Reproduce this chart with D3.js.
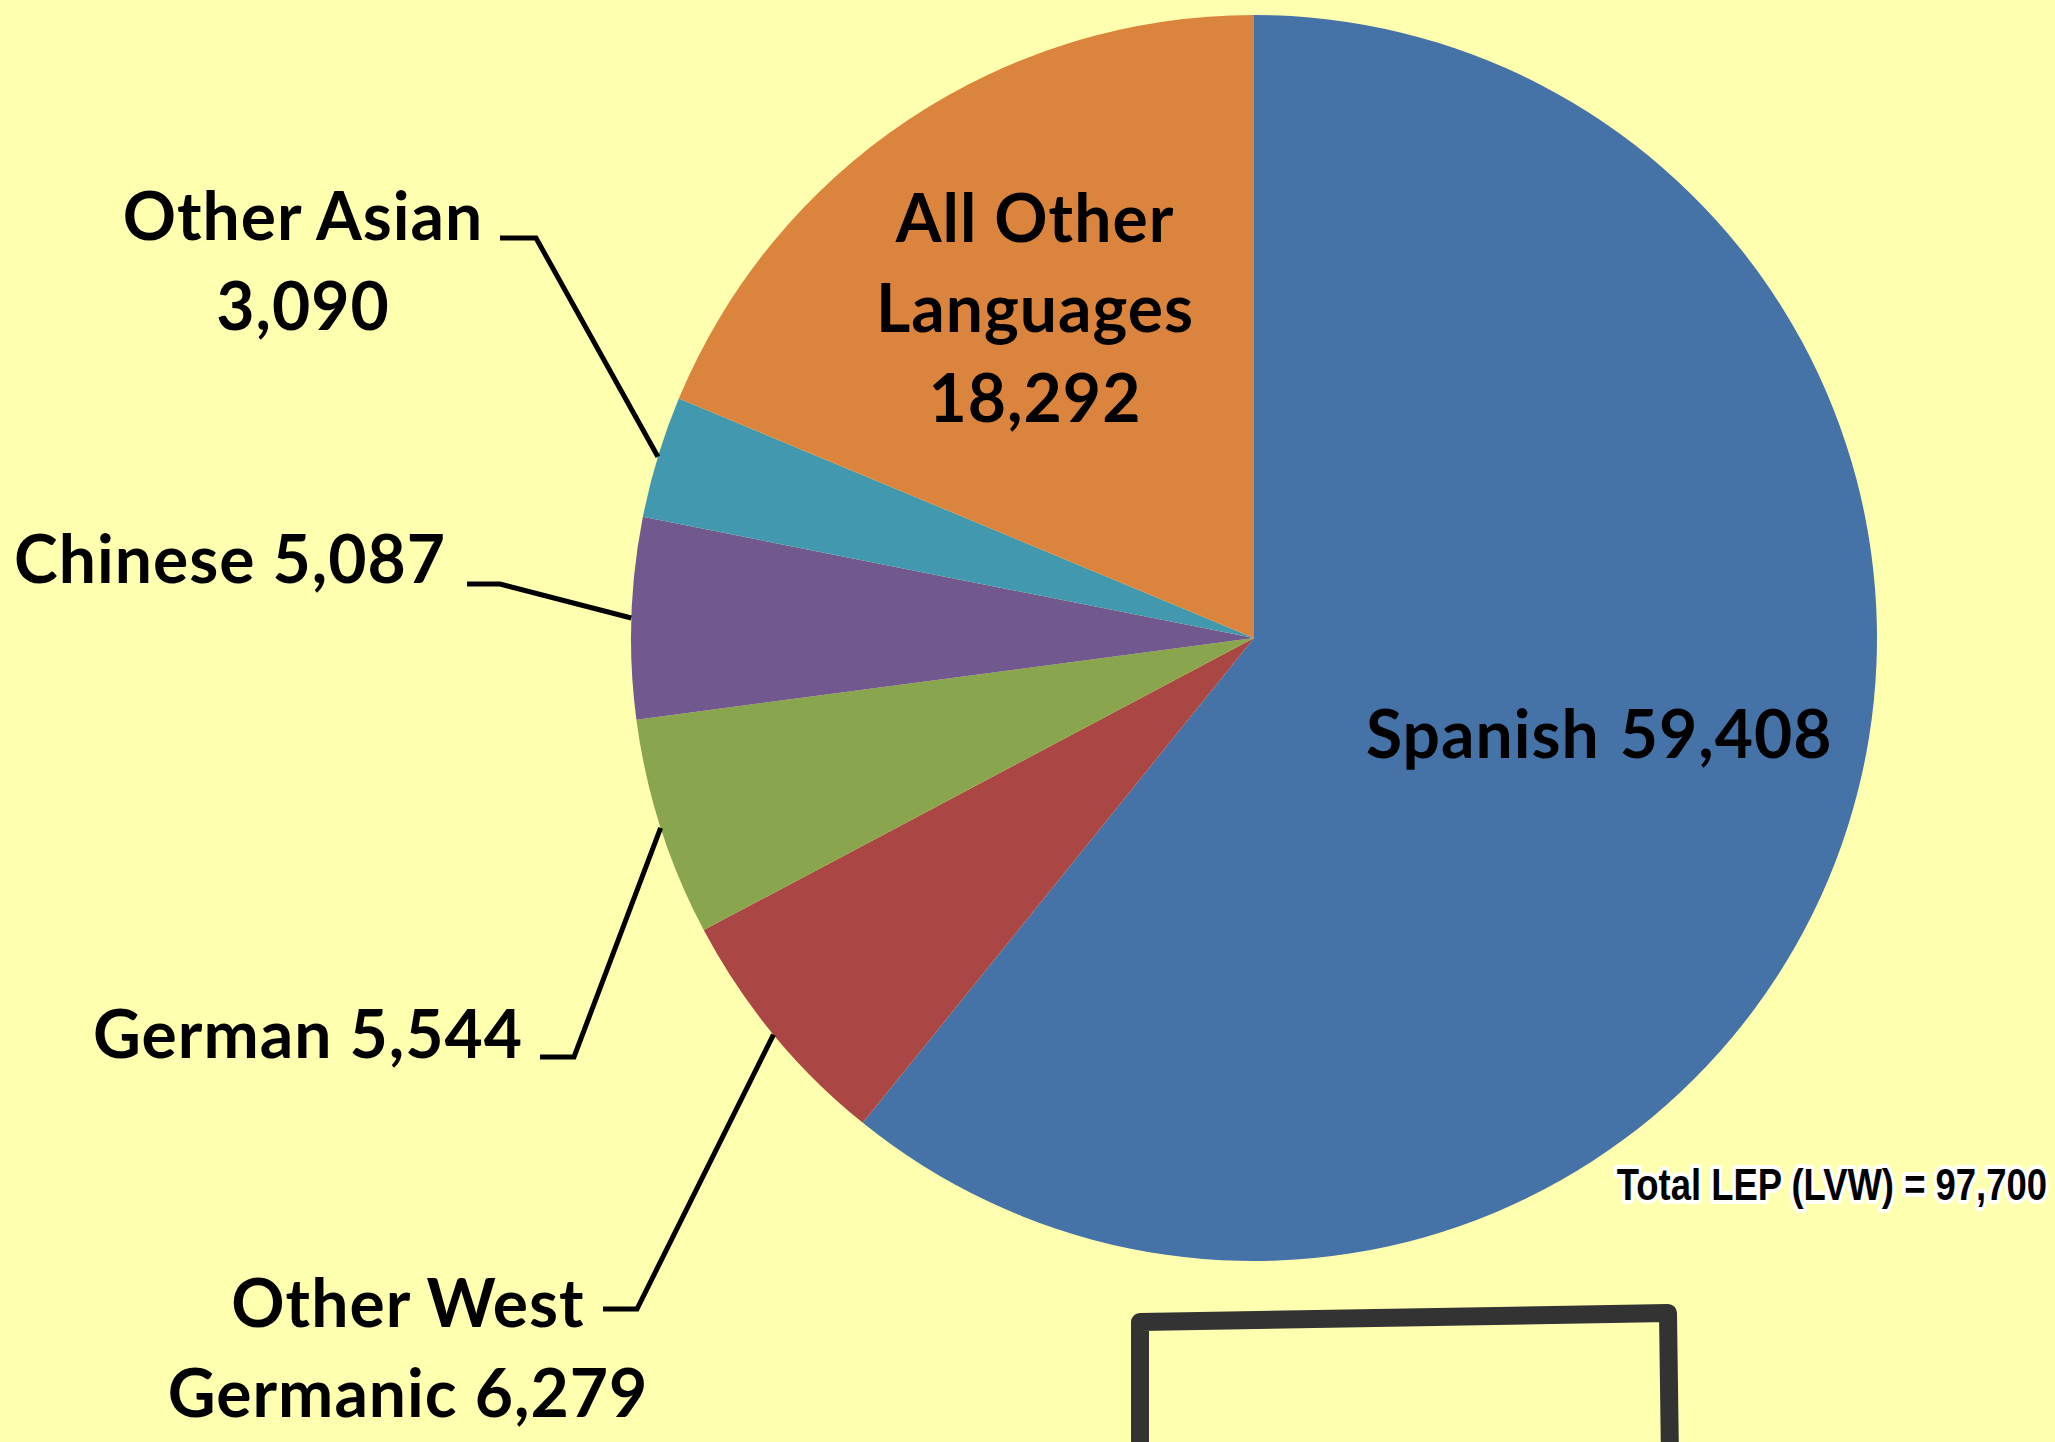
<!DOCTYPE html>
<html>
<head>
<meta charset="utf-8">
<script src="https://cdn.jsdelivr.net/npm/d3@7"></script>
<style>
  html, body { margin: 0; padding: 0; background: #ffffb0; }
  svg { display: block; }
  .lbl { font-family: Lato, "Open Sans", sans-serif; font-weight: 700; fill: #000; letter-spacing: 1px; }
</style>
</head>
<body>
<div id="chart"></div>
<script>
// data
var languages = ["Spanish", "Other West Germanic", "German", "Chinese", "Other Asian", "All Other Languages"];
var speakers = [59408, 6279, 5544, 5087, 3090, 18292];
var sliceColors = ["#4572a7", "#aa4643", "#89a54e", "#71588f", "#4198af", "#db843d"];
var labelLines = [
  ["Spanish", "59,408"],
  ["Other West", "Germanic 6,279"],
  ["German 5,544"],
  ["Chinese 5,087"],
  ["Other Asian", "3,090"],
  ["All Other", "Languages", "18,292"]
];
var totalText = "Total LEP (LVW) = 97,700";

// layout of the labels (page pixels): anchor, first baseline, leader knee
var labelLayout = [
  { x: 1366, y: 758, anchor: "start", inside: true },
  { x: 408, y: 1327, anchor: "middle", knee: [637, 1309], tail: 603 },
  { x: 523, y: 1058, anchor: "end", knee: [574, 1057], tail: 540 },
  { x: 446, y: 583, anchor: "end", knee: [500, 584], tail: 467 },
  { x: 303, y: 240, anchor: "middle", knee: [536, 238], tail: 500 },
  { x: 1035, y: 242, anchor: "middle", inside: true }
];

var W = 2055, H = 1442;
var cx = 1254, cy = 638, radius = 623;
var lineHeight = 90;

var svg = d3.select("#chart")
  .append("svg")
  .attr("width", W)
  .attr("height", H);

svg.append("rect")
  .attr("width", W)
  .attr("height", H)
  .attr("fill", "#ffffb0");

var pie = d3.pie().sort(null).value(function (d) { return d; });
var arcs = pie(speakers);

var arc = d3.arc().innerRadius(0).outerRadius(radius);

var g = svg.append("g").attr("transform", "translate(" + cx + "," + cy + ")");

g.selectAll("path.slice")
  .data(arcs)
  .enter()
  .append("path")
  .attr("class", "slice")
  .attr("d", arc)
  .attr("fill", function (d, i) { return sliceColors[i]; });

// leader lines from slice edge (mid angle) to the label
arcs.forEach(function (d, i) {
  var lay = labelLayout[i];
  if (lay.inside) return;
  var mid = (d.startAngle + d.endAngle) / 2;
  var px = cx + Math.sin(mid) * radius,
    py = cy - Math.cos(mid) * radius;
  svg.append("path")
    .attr("d", d3.line()([[px, py], lay.knee, [lay.tail, lay.knee[1]]]))
    .attr("fill", "none")
    .attr("stroke", "#000")
    .attr("stroke-width", 5);
});

// labels
labelLines.forEach(function (lines, i) {
  var lay = labelLayout[i];
  var t = svg.append("text")
    .attr("class", "lbl")
    .attr("font-size", 66)
    .attr("text-anchor", lay.anchor);
  if (i === 0) {
    // Spanish label on one line, slightly wider gap
    t.attr("x", lay.x).attr("y", lay.y);
    t.append("tspan").text(lines[0]);
    t.append("tspan").attr("dx", 20).text(lines[1]);
    return;
  }
  lines.forEach(function (s, k) {
    t.append("tspan")
      .attr("x", lay.x)
      .attr("y", lay.y + k * lineHeight)
      .text(s);
  });
});

// total note with white halo, squeezed like a narrow font
svg.append("text")
  .attr("transform", "translate(2047,1200) scale(0.81,1)")
  .attr("text-anchor", "end")
  .attr("font-family", "'Liberation Sans Narrow', 'Arial Narrow', 'Liberation Sans', sans-serif")
  .attr("font-weight", 700)
  .attr("font-size", 45)
  .attr("fill", "#000")
  .attr("stroke", "#fff")
  .attr("stroke-width", 8)
  .attr("stroke-linejoin", "round")
  .attr("paint-order", "stroke")
  .text(totalText);

// hand drawn frame at the bottom
svg.append("path")
  .attr("d", d3.line()([[1140, 1460], [1140, 1322], [1668, 1313], [1670, 1460]]))
  .attr("fill", "none")
  .attr("stroke", "#333")
  .attr("stroke-width", 18)
  .attr("stroke-linejoin", "round");
</script>
</body>
</html>
